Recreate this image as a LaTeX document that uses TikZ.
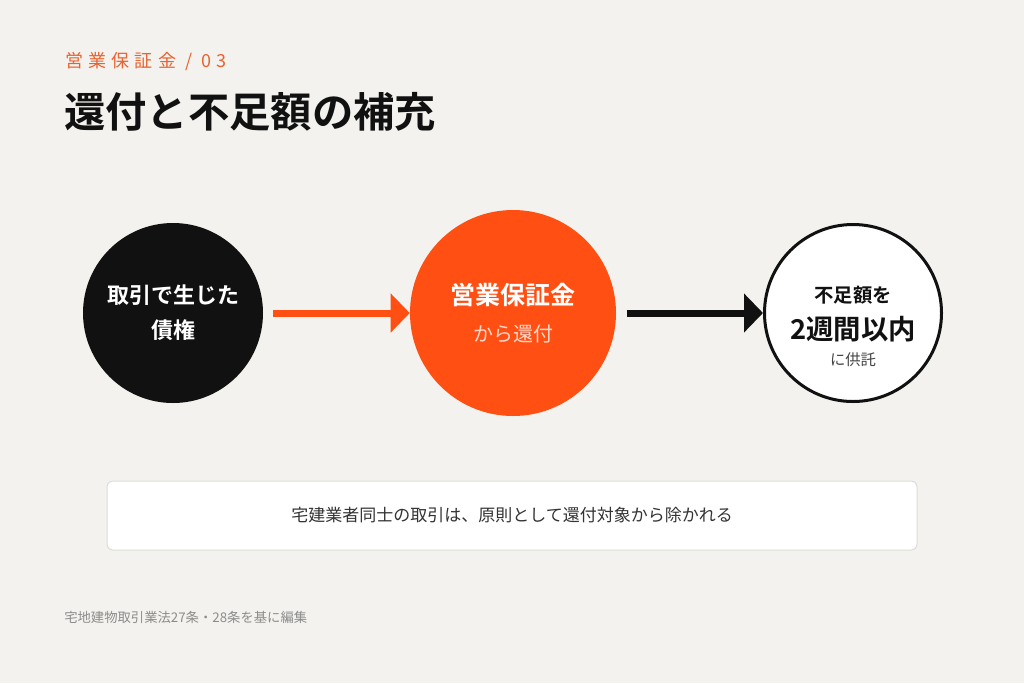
\documentclass[tikz,border=0pt]{standalone}
\usepackage{fontspec}
\setmainfont{Noto Sans CJK JP}[BoldFont={Noto Sans CJK JP Bold}]
\newfontfamily\trackedfont[LetterSpace=29]{Noto Sans CJK JP}
\usetikzlibrary{positioning,arrows.meta,calc}
\definecolor{paper}{HTML}{F3F2EE}
\definecolor{accent}{HTML}{FF4F12}
\definecolor{accentsoft}{HTML}{E9622F}
\definecolor{ink}{HTML}{111111}
\definecolor{boxline}{HTML}{DCDCD8}
\definecolor{bodytext}{HTML}{333333}
\definecolor{subtext}{HTML}{444444}
\definecolor{note}{HTML}{8C8C8C}
\newcommand{\fsz}[1]{\fontsize{#1}{#1}\selectfont}

\begin{document}
\begin{tikzpicture}[
    x=0.75pt, y=-0.75pt,
    every node/.style={inner sep=0pt},
    circ/.style={circle, inner sep=0pt, minimum size=135pt},
    intext/.style={anchor=center, text=white},
    flow/.style={line width=5.25pt, -{Triangle[length=14.25pt, width=28.5pt]}},
    notebox/.style={rectangle, rounded corners=4.5pt, draw=boxline, line width=0.75pt, fill=white,
        minimum width=607.5pt, minimum height=51.75pt, font=\fsz{12.75pt}, text=bodytext}
]
% page and margins
\useasboundingbox (0,0) rectangle (1024,683);
\fill[paper] (0,0) rectangle (1024,683);

% heading
\node[anchor=west, font=\trackedfont\fsz{13.5pt}, text=accentsoft] (kicker) at (65,62) {営業保証金 / 03};
\node[anchor=west, font=\bfseries\fsz{31pt}, text=ink] (title) at (64,112) {還付と不足額の補充};

% three stages
\node[circ, fill=ink] (debt) at (173,313) {};
\node[circ, fill=accent, minimum size=154.5pt] (fund) at (513,313) {};
\node[circ, fill=white, draw=ink, line width=2.25pt, minimum size=132.75pt] (deposit) at (853,313) {};

% texts inside the circles
\node[intext, font=\bfseries\fsz{16.5pt}] (debtA) at ($(debt)+(0,-18)$) {取引で生じた};
\node[intext, font=\bfseries\fsz{16.5pt}] (debtB) at ($(debt)+(0,17)$) {債権};
\node[intext, font=\bfseries\fsz{18.75pt}] (fundA) at ($(fund)+(0,-18)$) {営業保証金};
\node[intext, font=\fsz{15pt}, text=white!78!accent] (fundB) at ($(fund)+(0,21)$) {から還付};
\node[intext, font=\bfseries\fsz{14.5pt}, text=ink] (depositA) at ($(deposit)+(0,-18)$) {不足額を};
\node[intext, font=\bfseries\fsz{20.5pt}, text=ink] (depositB) at ($(deposit)+(0,16)$) {2週間以内};
\node[intext, font=\fsz{11.5pt}, text=subtext] (depositC) at ($(deposit)+(0,47)$) {に供託};

% arrows
\draw[flow, accent, shorten <=7.5pt] (debt) -- (fund);
\draw[flow, ink, shorten <=8pt] (fund) -- (deposit);

% note box
\node[notebox] (rule) at (512,515.5) {宅建業者同士の取引は、原則として還付対象から除かれる};

% source
\node[anchor=west, font=\fsz{10pt}, text=note] (source) at (64,617) {宅地建物取引業法27条・28条を基に編集};

\end{tikzpicture}
\end{document}
